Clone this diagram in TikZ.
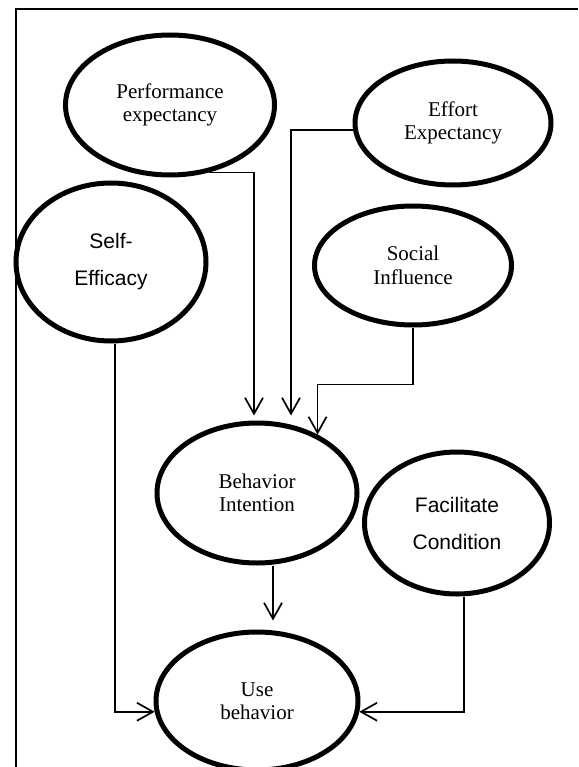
\documentclass[tikz,border=0pt]{standalone}
\usepackage{fontspec}
\setmainfont{Liberation Serif}
\setsansfont{Liberation Sans}
\usetikzlibrary{arrows.meta,shapes.geometric}

\begin{document}
\begin{tikzpicture}[x=1pt, y=1pt,
  bubble/.style={draw, ellipse, line width=5pt, align=center, font=\fontsize{21}{23.5}\selectfont},
  sansbubble/.style={bubble, font=\sffamily\fontsize{21}{37}\selectfont},
  arr/.style={-{Straight Barb[length=16pt,width=18pt]}, line width=1.7pt},
  frame/.style={line width=2pt}]
\useasboundingbox (0,0) rectangle (578,-767);
\draw[frame] (15.5,-767) |- (578,-9.5);
% constructs
\node[bubble, minimum width=209pt, minimum height=140pt] (perf) at (170,-105) {Performance\\expectancy};
\node[bubble, minimum width=196pt, minimum height=124pt] (effort) at (453,-123) {Effort\\Expectancy};
\node[sansbubble, minimum width=190pt, minimum height=158pt] (self) at (111,-262) {Self-\\Efficacy};
\node[bubble, minimum width=197pt, minimum height=119pt] (social) at (413,-265.5) {Social\\Influence};
\node[bubble, minimum width=200pt, minimum height=140pt] (bi) at (257,-493) {Behavior\\Intention};
\node[sansbubble, minimum width=185pt, minimum height=142pt] (fc) at (457,-523) {Facilitate\\Condition};
\node[bubble, minimum width=202pt, minimum height=138pt] (use) at (257,-701) {Use\\behavior};
% paths
\draw[arr] (perf.-60) -| ([xshift=-3pt,yshift=5pt]bi.north);
\draw[arr] (effort.184) -| ([xshift=34pt,yshift=5pt]bi.north);
\draw[arr] (social.south) -- ++(0,-57) -| (bi.44);
\draw[arr] ([xshift=16pt]bi.south) -- ([xshift=16pt,yshift=9pt]use.north);
\draw[arr] ([xshift=4pt]self.south) |- (use.186);
\draw[arr] ([xshift=7pt]fc.south) |- (use.-6);
\end{tikzpicture}
\end{document}
